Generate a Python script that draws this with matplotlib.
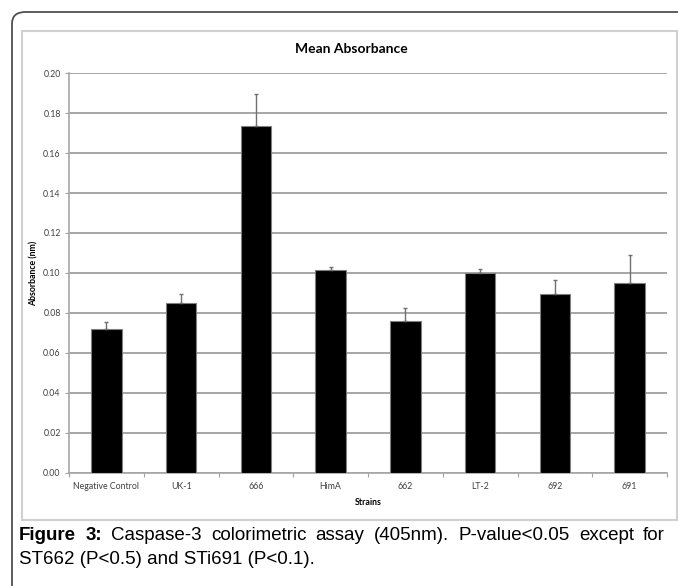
import matplotlib
matplotlib.use("Agg")
import matplotlib.pyplot as plt
import matplotlib.patches as mpatches
import numpy as np

plt.rcParams["font.family"] = ["Lato", "DejaVu Sans"]

# data
strains = ["Negative Control", "UK-1", "666", "HimA", "662", "LT-2", "692", "691"]
absorbance = [0.0721, 0.0849, 0.1736, 0.1016, 0.0759, 0.0999, 0.0896, 0.0951]
err_up = [0.0033, 0.0043, 0.0160, 0.0013, 0.0067, 0.0022, 0.0070, 0.0137]
y_ticks = [0.00, 0.02, 0.04, 0.06, 0.08, 0.10, 0.12, 0.14, 0.16, 0.18, 0.20]

caption_1 = ["Figure", "3:", "Caspase-3", "colorimetric", "assay", "(405nm).",
             "P-value<0.05", "except", "for"]
caption_2 = "ST662 (P<0.5) and STi691 (P<0.1)."

W, H = 678, 586
fig = plt.figure(figsize=(W / 100, H / 100), dpi=100)

def fx(px):
    return px / W

def fy(py):
    return 1 - py / H

# outer rounded frame (runs off the right and bottom edge)
frame = mpatches.FancyBboxPatch((fx(12), fy(620)), fx(700), (620 - 12) / H,
                                boxstyle="round,pad=0,rounding_size=0.02",
                                transform=fig.transFigure, fill=False,
                                edgecolor="#505050", linewidth=1.3)
fig.patches.append(frame)

# chart box
box = mpatches.Rectangle((fx(22), fy(520)), fx(655), (520 - 31) / H,
                         transform=fig.transFigure, fill=False,
                         edgecolor="#d0d0d0", linewidth=1.5)
fig.patches.append(box)

ax = fig.add_axes([fx(69), fy(472.5), fx(667 - 69), (472.5 - 73.3) / H])
x = np.arange(len(strains))
ax.bar(x, absorbance, width=0.41, color="black", edgecolor="#808080",
       linewidth=0.8, zorder=3)
ax.errorbar(x, absorbance, yerr=[np.zeros(len(err_up)), err_up], fmt="none",
            ecolor="#707070", elinewidth=1, capsize=1.5, capthick=1, zorder=4)

ax.set_xlim(-0.5, len(strains) - 0.5)
ax.set_ylim(0, 0.20)
ax.set_yticks(y_ticks)
ax.set_yticklabels(["%.2f" % v for v in y_ticks], fontsize=6.3, color="#404040")
ax.yaxis.grid(True, color="#a6a6a6", linewidth=1.4, zorder=0)
ax.tick_params(axis="y", length=3, width=0.8, color="#a0a0a0", pad=3)

ax.set_xticks(x)
ax.set_xticklabels(strains, fontsize=6.3, color="#404040")
ax.set_xticks(np.arange(-0.5, len(strains)), minor=True)
ax.tick_params(axis="x", which="major", length=0, pad=7)
ax.tick_params(axis="x", which="minor", length=3, width=0.8, color="#a0a0a0")

for s in ["top", "right"]:
    ax.spines[s].set_visible(False)
ax.spines["left"].set_color("#a6a6a6")
ax.spines["bottom"].set_color("#a6a6a6")
ax.spines["left"].set_linewidth(1.2)
ax.spines["bottom"].set_linewidth(1.2)

ax.set_xlabel("Strains", fontsize=6.3, fontweight="bold", labelpad=5)
ax.set_ylabel("Absorbance (nm)", fontsize=6.3, fontweight="bold", labelpad=3)
fig.text(fx(351), fy(49), "Mean Absorbance", fontsize=10, fontweight="bold",
         ha="center", va="center")

# caption, first line justified
cap_font = ["Liberation Sans Narrow", "Liberation Sans", "DejaVu Sans"]
left, right = 19, 665
fig.canvas.draw()
renderer = fig.canvas.get_renderer()
words = []
total = 0
for i, w in enumerate(caption_1):
    t = fig.text(0, fy(536), w, fontsize=13.5, family=cap_font,
                 fontweight="bold" if i < 2 else "normal", va="center")
    wd = t.get_window_extent(renderer).width
    words.append((t, wd))
    total += wd
gap = (right - left - total) / (len(words) - 1)
pos = left
for t, wd in words:
    t.set_x(fx(pos))
    pos += wd + gap
fig.text(fx(left), fy(559), caption_2, fontsize=13.5, family=cap_font,
         va="center")

fig.savefig("out.png", dpi=100)
